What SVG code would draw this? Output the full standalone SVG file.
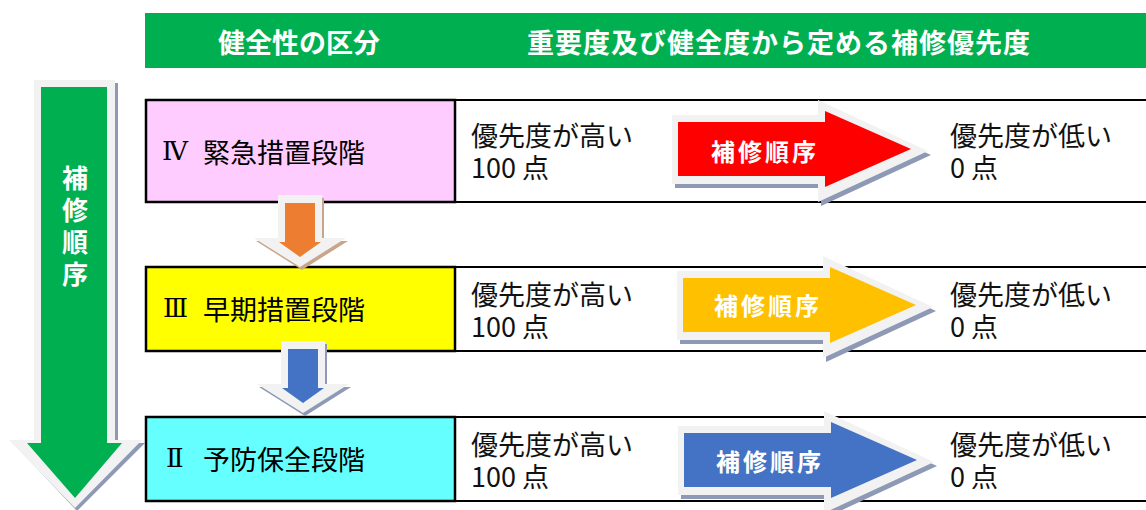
<svg xmlns="http://www.w3.org/2000/svg" xmlns:xlink="http://www.w3.org/1999/xlink" width="1146" height="510" viewBox="0 0 1146 510">
  <style>
    .hdr { font-family: "Noto Sans CJK JP", "Noto Sans", sans-serif; font-weight: bold; font-size: 27px; fill: #FFFFFF; }
    .lbl { font-family: "Noto Sans CJK JP", "Noto Sans", sans-serif; font-size: 27px; fill: #000000; }
    .num { font-family: "DejaVu Serif", "Noto Sans CJK JP", serif; font-size: 26px; fill: #000000; }
    .txt { font-family: "Noto Sans CJK JP", "Noto Sans", sans-serif; font-size: 27px; fill: #111111; }
    .arr { font-family: "Noto Sans CJK JP", "Noto Sans", sans-serif; font-weight: bold; font-size: 24px; fill: #FFFFFF; letter-spacing: 3px; }
    .vert { font-family: "Noto Sans CJK JP", "Noto Sans", sans-serif; font-weight: bold; font-size: 26px; fill: #FFFFFF; writing-mode: vertical-rl; letter-spacing: 6px; }
    .box { stroke: #000000; stroke-width: 2.5; }
    .rule { stroke: #000000; stroke-width: 2.2; }
    .halo { fill: #F2F2F2; }
    .shadow { fill: #8E99B6; }
  </style>
  <defs>
    <polygon id="rightOuter" points="-6,-34 140,-34 140,-49 250,2 140,53 140,35 -6,35"/>
    <polygon id="rightInner" points="0,-27 147,-27 147,-38 233,0 147,38 147,27 0,27"/>
    <polygon id="downOuter" points="-22,0 22,0 22,43 46,43 0,72 -46,43 -22,43"/>
    <polygon id="downInner" points="-15,8 15,8 15,47 21,47 0,62 -21,47 -15,47"/>
  </defs>
  <rect width="1146" height="510" fill="#FFFFFF"/>

  <g id="header">
    <rect x="145" y="13" width="1001" height="55" fill="#00B050"/>
    <text class="hdr" x="218" y="41" dominant-baseline="central">健全性の区分</text>
    <text class="hdr" x="527" y="41" dominant-baseline="central" style="letter-spacing:1px">重要度及び健全度から定める補修優先度</text>
  </g>

  <g id="order-arrow">
    <polygon class="shadow" points="37,83 118,83 118,443 145,443 77,511 13,443 37,443"/>
    <polygon class="halo" points="34,80 115,80 115,440 142,440 75,508 9,440 34,440"/>
    <polygon fill="#00B050" points="41,87 107,87 107,443 122,443 75,498 27,443 41,443"/>
    <text class="vert" x="75" y="165">補修順序</text>
  </g>

  <g id="row-4">
    <rect class="box" x="146" y="100" width="309" height="102" fill="#FFCCFF"/>
    <line class="rule" x1="455" y1="100" x2="1146" y2="100"/>
    <line class="rule" x1="455" y1="202" x2="1146" y2="202"/>
    <text class="num" x="162" y="151" dominant-baseline="central">Ⅳ</text>
    <text class="lbl" x="203" y="151" dominant-baseline="central">緊急措置段階</text>
    <text class="txt" dominant-baseline="central"><tspan x="471" y="134">優先度が高い</tspan><tspan x="471" y="166">100 点</tspan></text>
    <text class="txt" dominant-baseline="central"><tspan x="950" y="134">優先度が低い</tspan><tspan x="950" y="166">0 点</tspan></text>
  </g>

  <g id="row-3">
    <rect class="box" x="146" y="267" width="309" height="84" fill="#FFFF00"/>
    <line class="rule" x1="455" y1="267" x2="1146" y2="267"/>
    <line class="rule" x1="455" y1="351" x2="1146" y2="351"/>
    <text class="num" x="163" y="308" dominant-baseline="central">Ⅲ</text>
    <text class="lbl" x="203" y="308" dominant-baseline="central">早期措置段階</text>
    <text class="txt" dominant-baseline="central"><tspan x="471" y="293">優先度が高い</tspan><tspan x="471" y="325">100 点</tspan></text>
    <text class="txt" dominant-baseline="central"><tspan x="950" y="293">優先度が低い</tspan><tspan x="950" y="325">0 点</tspan></text>
  </g>

  <g id="row-2">
    <rect class="box" x="146" y="417" width="309" height="84" fill="#66FFFF"/>
    <line class="rule" x1="455" y1="417" x2="1146" y2="417"/>
    <line class="rule" x1="455" y1="501" x2="1146" y2="501"/>
    <text class="num" x="166" y="458" dominant-baseline="central">Ⅱ</text>
    <text class="lbl" x="203" y="458" dominant-baseline="central">予防保全段階</text>
    <text class="txt" dominant-baseline="central"><tspan x="471" y="443">優先度が高い</tspan><tspan x="471" y="475">100 点</tspan></text>
    <text class="txt" dominant-baseline="central"><tspan x="950" y="443">優先度が低い</tspan><tspan x="950" y="475">0 点</tspan></text>
  </g>

  <g id="connectors">
    <g id="order-row-4">
      <use xlink:href="#rightOuter" class="shadow" transform="translate(681,153)"/>
      <use xlink:href="#rightOuter" class="halo" transform="translate(678,149)"/>
      <use xlink:href="#rightInner" fill="#FF0000" transform="translate(678,149)"/>
      <text class="arr" x="711" y="150" dominant-baseline="central">補修順序</text>
    </g>
    <g id="order-row-3">
      <use xlink:href="#rightOuter" class="shadow" transform="translate(686,309)"/>
      <use xlink:href="#rightOuter" class="halo" transform="translate(683,305)"/>
      <use xlink:href="#rightInner" fill="#FFC000" transform="translate(683,305)"/>
      <text class="arr" x="714" y="304" dominant-baseline="central">補修順序</text>
    </g>
    <g id="order-row-2">
      <use xlink:href="#rightOuter" class="shadow" transform="translate(687,464)"/>
      <use xlink:href="#rightOuter" class="halo" transform="translate(684,460)"/>
      <use xlink:href="#rightInner" fill="#4472C4" transform="translate(684,460)"/>
      <text class="arr" x="716" y="460" dominant-baseline="central">補修順序</text>
    </g>
    <g id="step-4-to-3">
      <use xlink:href="#downOuter" fill="#C9A58C" transform="translate(302,198)"/>
      <use xlink:href="#downOuter" class="halo" transform="translate(300,195)"/>
      <use xlink:href="#downInner" fill="#ED7D31" transform="translate(300,195)"/>
    </g>
    <g id="step-3-to-2">
      <use xlink:href="#downOuter" class="shadow" transform="translate(305,344)"/>
      <use xlink:href="#downOuter" class="halo" transform="translate(303,341)"/>
      <use xlink:href="#downInner" fill="#4472C4" transform="translate(303,341)"/>
    </g>
  </g>
</svg>
